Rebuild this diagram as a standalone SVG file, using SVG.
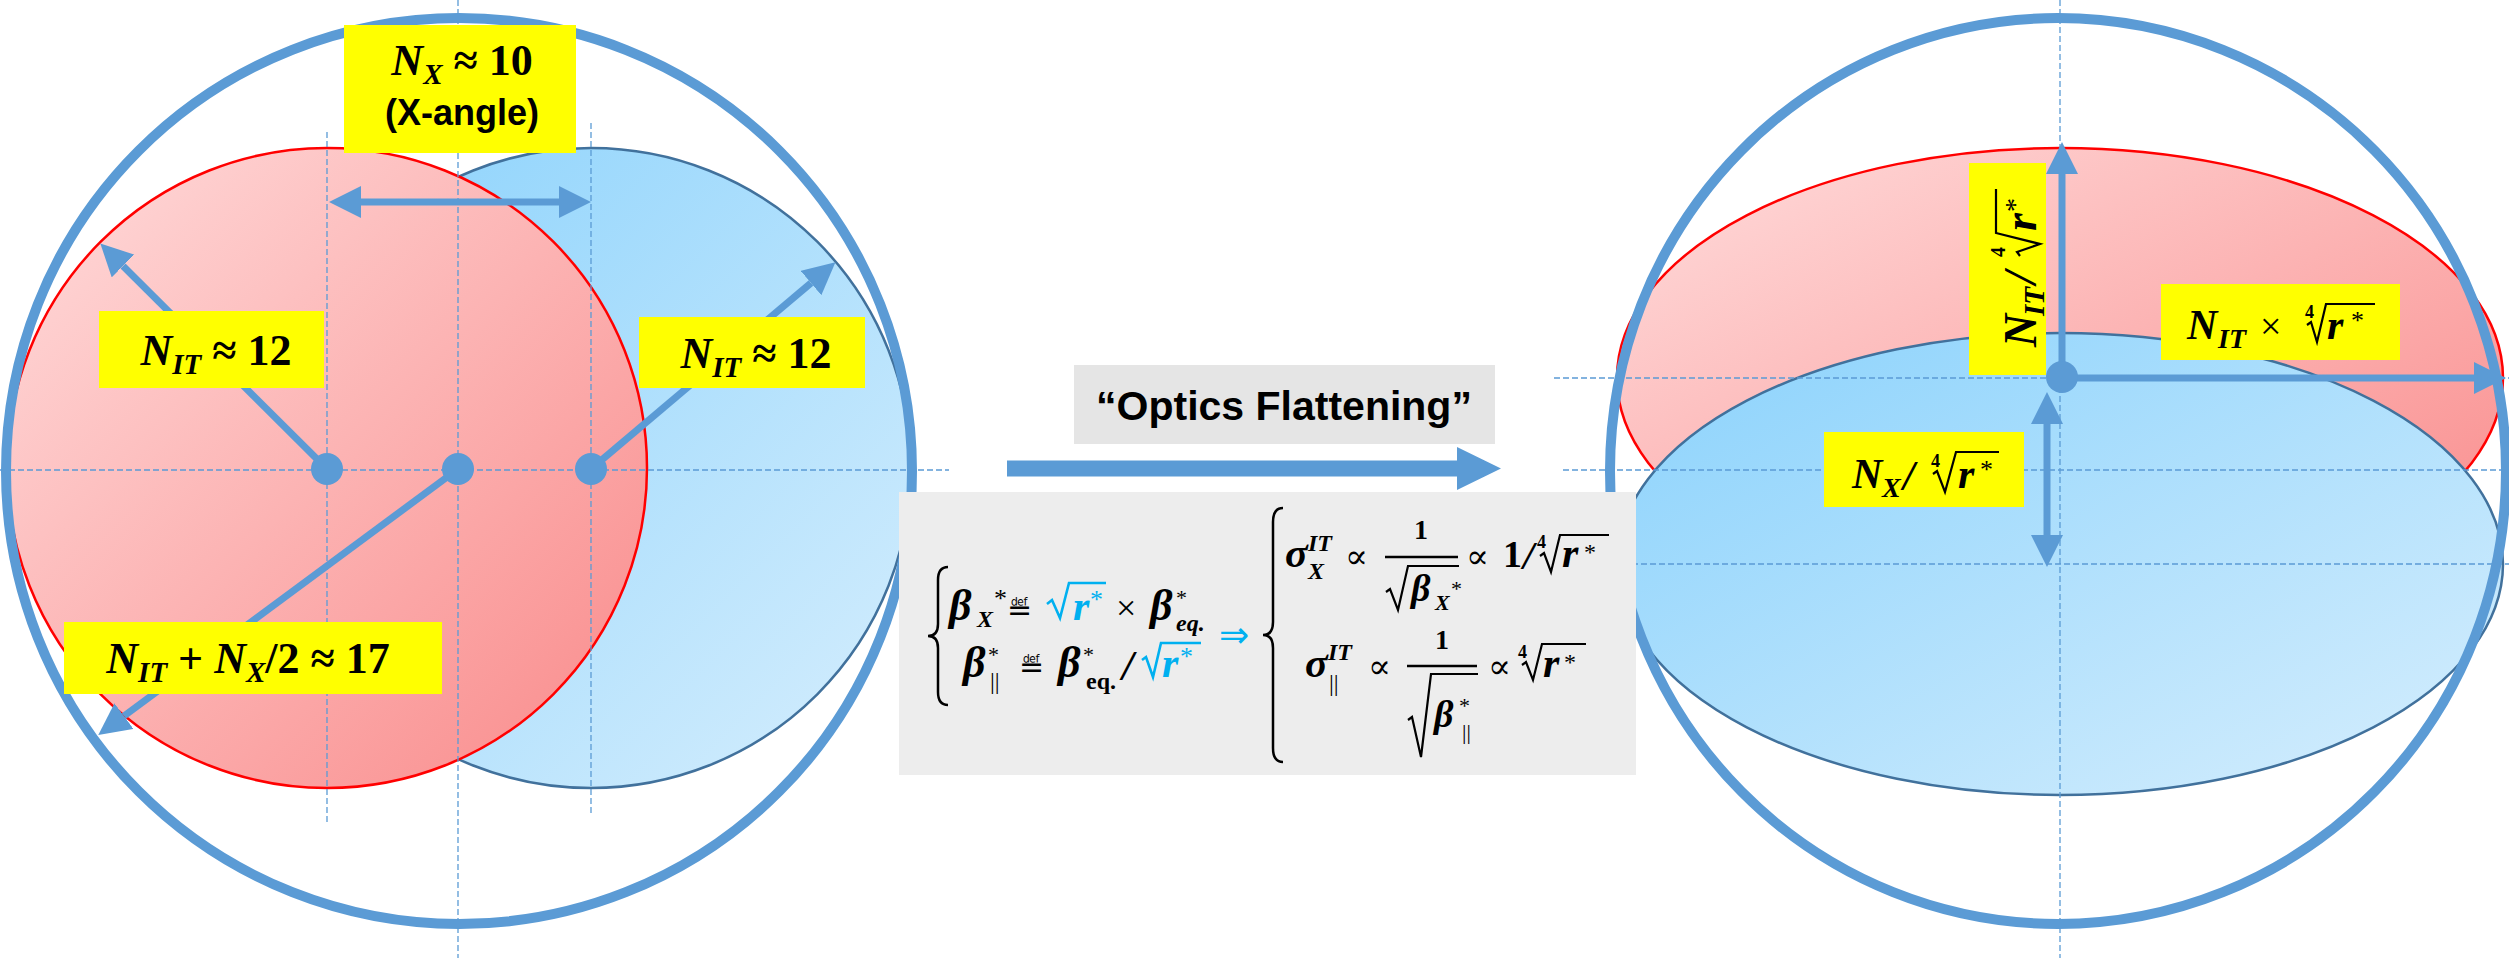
<svg xmlns="http://www.w3.org/2000/svg" width="2509" height="958" viewBox="0 0 2509 958">
<defs>
<linearGradient id="gRed" x1="0" y1="0" x2="1" y2="1">
<stop offset="0" stop-color="#ffdcdc"/>
<stop offset="1" stop-color="#f98a8a"/>
</linearGradient>
<linearGradient id="gBlue" x1="0" y1="0" x2="1" y2="1">
<stop offset="0" stop-color="#8ad2fc"/>
<stop offset="1" stop-color="#d6eefd"/>
</linearGradient>
<marker id="ah" viewBox="0 0 32 32" refX="0" refY="16" markerWidth="32" markerHeight="32" markerUnits="userSpaceOnUse" orient="auto-start-reverse">
<path d="M0,0 L32,16 L0,32 z" fill="#5b9bd5"/>
</marker>
<style>
.outer{fill:none;stroke:#5b9bd5;stroke-width:10}
.red{fill:url(#gRed);stroke:#ff0000;stroke-width:2.5}
.blue{fill:url(#gBlue);stroke:#41719c;stroke-width:2.5}
.dash{stroke:#5b9bd5;stroke-width:1.3;stroke-dasharray:6 3;fill:none}
.arr{stroke:#5b9bd5;stroke-width:7;fill:none}
.dot{fill:#5b9bd5}
.yel{fill:#ffff00}
.mi{font-family:"Liberation Serif","DejaVu Serif",serif;font-weight:bold;font-style:italic;fill:#000}
.mb{font-family:"Liberation Serif","DejaVu Serif",serif;font-weight:bold;font-style:normal;fill:#000}
.mr{font-family:"Liberation Serif","DejaVu Serif",serif;font-weight:normal;font-style:normal;fill:#000}
.up{font-style:normal}
.n{font-style:normal;font-weight:normal}
.b{font-style:normal;font-weight:bold}
.sans{font-family:"Liberation Sans",Arial,sans-serif;font-weight:bold;fill:#000}
.def{font-family:"DejaVu Sans",sans-serif;font-weight:normal;fill:#000}
.cy{fill:#00b0f0}
.rad{fill:none;stroke:#000;stroke-width:2.2;stroke-linejoin:miter}
.radc{fill:none;stroke:#00b0f0;stroke-width:2.6;stroke-linejoin:miter}
.brace{fill:none;stroke:#000;stroke-width:2.5}
</style>
</defs>

<!-- LEFT: fills -->
<g id="left-blue-circle"><circle class="blue" cx="591" cy="468" r="320"/></g>
<g id="left-red-circle"><circle class="red" cx="327" cy="468" r="320"/></g>

<!-- RIGHT: fills -->
<g id="right-red-ellipse"><ellipse class="red" cx="2060" cy="378" rx="443" ry="230"/></g>
<g id="right-blue-ellipse"><ellipse class="blue" cx="2060" cy="564" rx="443" ry="231"/></g>

<!-- guide lines -->
<g id="guides">
<line class="dash" x1="0" y1="470" x2="949" y2="470"/>
<line class="dash" x1="327" y1="132" x2="327" y2="825"/>
<line class="dash" x1="458" y1="0" x2="458" y2="958"/>
<line class="dash" x1="591" y1="123" x2="591" y2="816"/>
<line class="dash" x1="2060" y1="0" x2="2060" y2="958"/>
<line class="dash" x1="1554" y1="378" x2="2509" y2="378"/>
<line class="dash" x1="1563" y1="470" x2="2509" y2="470"/>
<line class="dash" x1="1560" y1="564" x2="2509" y2="564"/>
</g>

<!-- outer circles -->
<g id="left-outer"><circle class="outer" cx="459" cy="471" r="453"/></g>
<g id="right-outer"><ellipse class="outer" cx="2058" cy="471" rx="448" ry="453"/></g>

<!-- connectors -->
<g id="connectors">
<line class="arr" x1="327" y1="469" x2="123" y2="266" marker-end="url(#ah)"/>
<line class="arr" x1="591" y1="469" x2="811" y2="283" marker-end="url(#ah)"/>
<line class="arr" x1="458" y1="469" x2="124" y2="716" marker-end="url(#ah)"/>
<line class="arr" x1="361" y1="202" x2="559" y2="202" marker-start="url(#ah)" marker-end="url(#ah)"/>
<line class="arr" x1="2062" y1="378" x2="2062" y2="174" marker-end="url(#ah)"/>
<line class="arr" x1="2062" y1="378" x2="2474" y2="378" marker-end="url(#ah)"/>
<line class="arr" x1="2047" y1="424" x2="2047" y2="535" marker-start="url(#ah)" marker-end="url(#ah)"/>
<polygon id="flatten-arrow" fill="#5b9bd5" points="1007,460.5 1457,460.5 1457,447 1501,468.5 1457,490 1457,476.5 1007,476.5"/>
</g>

<!-- dots -->
<g id="dots">
<circle class="dot" cx="327" cy="469" r="16"/>
<circle class="dot" cx="458" cy="469" r="16"/>
<circle class="dot" cx="591" cy="469" r="16"/>
<circle class="dot" cx="2062" cy="377" r="16"/>
</g>

<!-- labels left -->
<g id="label-nx">
<rect class="yel" x="344" y="25" width="232" height="128"/>
<text class="mi" x="462" y="75" font-size="44" text-anchor="middle">N<tspan font-size="29" dy="9">X</tspan><tspan class="up" dy="-9"> ≈ 10</tspan></text>
<text class="sans" x="462" y="125" font-size="36" text-anchor="middle">(X-angle)</text>
</g>
<g id="label-nit-left">
<rect class="yel" x="99" y="311" width="225" height="77"/>
<text class="mi" x="216" y="365" font-size="44" text-anchor="middle">N<tspan font-size="29" dy="9">IT</tspan><tspan class="up" dy="-9"> ≈ 12</tspan></text>
</g>
<g id="label-nit-right">
<rect class="yel" x="639" y="317" width="226" height="71"/>
<text class="mi" x="756" y="368" font-size="44" text-anchor="middle">N<tspan font-size="29" dy="9">IT</tspan><tspan class="up" dy="-9"> ≈ 12</tspan></text>
</g>
<g id="label-sum">
<rect class="yel" x="64" y="622" width="378" height="72"/>
<text class="mi" x="248" y="673" font-size="44" text-anchor="middle">N<tspan font-size="29" dy="9">IT</tspan><tspan class="up" dy="-9"> + </tspan><tspan>N</tspan><tspan font-size="29" dy="9">X</tspan><tspan class="up" dy="-9">/2 ≈ 17</tspan></text>
</g>

<!-- labels right -->
<g id="label-nit-vertical">
<rect class="yel" x="1969" y="163" width="77" height="212"/>
<g transform="translate(2036,347) rotate(-90)">
<text class="mi" x="0" y="0" font-size="46">N<tspan x="31" y="8" font-size="29">IT</tspan><tspan x="63" y="0" font-size="46">/</tspan><tspan class="b" x="90" y="-31" font-size="20">4</tspan><tspan x="116" y="0" font-size="46">r</tspan><tspan class="n" x="135" y="-12" font-size="28">*</tspan></text>
<polyline class="rad" points="91,-16 95,-19 103,4 114,-40 158,-40"/>
</g>
</g>
<g id="label-nit-horizontal">
<rect class="yel" x="2161" y="284" width="239" height="76"/>
<text class="mi" x="2187" y="339" font-size="42">N<tspan x="2218" y="348" font-size="28">IT</tspan><tspan class="n" x="2260" y="339" font-size="38">×</tspan><tspan class="b" x="2305" y="318" font-size="18">4</tspan><tspan x="2327" y="339" font-size="42">r</tspan><tspan class="n" x="2351" y="329" font-size="26">*</tspan></text>
<polyline class="rad" points="2307,325 2311,322 2317,342 2326,304 2375,304"/>
</g>
<g id="label-nx-vertical">
<rect class="yel" x="1824" y="432" width="200" height="75"/>
<text class="mi" x="1852" y="488" font-size="42">N<tspan x="1882" y="497" font-size="28">X</tspan><tspan x="1903" y="490" font-size="42">/</tspan><tspan class="b" x="1931" y="467" font-size="18">4</tspan><tspan x="1958" y="488" font-size="42">r</tspan><tspan class="n" x="1980" y="478" font-size="26">*</tspan></text>
<polyline class="rad" points="1933,474 1937,471 1945,492 1956,452 1999,452"/>
</g>

<!-- Optics flattening title -->
<g id="optics-title">
<rect x="1074" y="365" width="421" height="79" fill="#e5e5e5"/>
<text class="sans" x="1284" y="420" font-size="41" text-anchor="middle">“Optics Flattening”</text>
</g>

<!-- formula box -->
<g id="formula">
<rect x="899" y="492" width="737" height="283" fill="#ededed"/>
<path class="brace" d="M948,567 Q938,567 938,580 L938,624 Q938,636 928,636 Q938,636 938,648 L938,692 Q938,705 948,705"/>
<!-- line 1 -->
<text class="mi" x="949" y="620" font-size="44">β<tspan x="977" y="627" font-size="24">X</tspan><tspan class="n" x="994" y="607" font-size="26">*</tspan></text>
<text class="def" x="1007" y="620" font-size="30">≝</text>
<polyline class="radc" points="1047,604 1052,600 1060,618 1069,583 1106,583"/>
<text class="mi cy" x="1073" y="620" font-size="42">r<tspan class="n" x="1090" y="608" font-size="26">*</tspan></text>
<text class="mr" x="1116" y="620" font-size="36">×</text>
<text class="mi" x="1150" y="620" font-size="44">β<tspan class="n" x="1176" y="605" font-size="22">*</tspan><tspan x="1176" y="631" font-size="24">eq.</tspan></text>
<!-- line 2 -->
<text class="mi" x="963" y="677" font-size="44">β<tspan class="n" x="988" y="662" font-size="22">*</tspan><tspan class="n" x="990" y="689" font-size="24">||</tspan></text>
<text class="def" x="1019" y="677" font-size="30">≝</text>
<text class="mi" x="1058" y="677" font-size="44">β<tspan class="n" x="1083" y="662" font-size="22">*</tspan><tspan class="b" x="1086" y="689" font-size="24">eq.</tspan><tspan x="1122" y="680" font-size="42">/</tspan></text>
<polyline class="radc" points="1142,660 1146,657 1153,677 1161,643 1201,643"/>
<text class="mi cy" x="1162" y="677" font-size="42">r<tspan class="n" x="1180" y="665" font-size="26">*</tspan></text>
<!-- implies -->
<text x="1219" y="647" font-size="36" font-family="DejaVu Sans, sans-serif" fill="#00b0f0">⇒</text>
<path class="brace" d="M1283,508 Q1273,508 1273,522 L1273,622 Q1273,635 1263,635 Q1273,635 1273,648 L1273,748 Q1273,762 1283,762"/>
<!-- line 3 -->
<text class="mi" x="1285" y="567" font-size="42">σ<tspan x="1308" y="551" font-size="24">IT</tspan><tspan x="1308" y="579" font-size="24">X</tspan></text>
<text class="mr" x="1345" y="568" font-size="34">∝</text>
<text class="mb" x="1421" y="539" font-size="28" text-anchor="middle">1</text>
<line x1="1385" y1="557" x2="1458" y2="557" stroke="#000" stroke-width="2.5"/>
<polyline class="rad" points="1386,592 1390,589 1398,610 1408,566 1459,566"/>
<text class="mi" x="1411" y="601" font-size="38">β<tspan x="1435" y="610" font-size="22">X</tspan><tspan class="n" x="1451" y="596" font-size="22">*</tspan></text>
<text class="mr" x="1466" y="568" font-size="34">∝</text>
<text class="mb" x="1503" y="567" font-size="38">1<tspan class="mi" x="1523" y="569" font-size="40">/</tspan><tspan x="1537" y="548" font-size="18">4</tspan><tspan class="mi" x="1562" y="567" font-size="42">r</tspan><tspan class="n" x="1584" y="560" font-size="24">*</tspan></text>
<polyline class="rad" points="1540,556 1544,553 1551,572 1560,535 1609,535"/>
<!-- line 4 -->
<text class="mi" x="1305" y="677" font-size="42">σ<tspan x="1328" y="660" font-size="24">IT</tspan><tspan class="n" x="1329" y="691" font-size="24">||</tspan></text>
<text class="mr" x="1368" y="678" font-size="34">∝</text>
<text class="mb" x="1442" y="649" font-size="28" text-anchor="middle">1</text>
<line x1="1407" y1="666" x2="1477" y2="666" stroke="#000" stroke-width="2.5"/>
<polyline class="rad" points="1408,720 1412,717 1421,757 1431,674 1478,674"/>
<text class="mi" x="1434" y="727" font-size="38">β<tspan class="n" x="1459" y="713" font-size="22">*</tspan><tspan class="n" x="1462" y="739" font-size="22">||</tspan></text>
<text class="mr" x="1488" y="678" font-size="34">∝</text>
<text class="mb" x="1518" y="658" font-size="18">4<tspan class="mi" x="1543" y="677" font-size="42">r</tspan><tspan class="n" x="1564" y="670" font-size="24">*</tspan></text>
<polyline class="rad" points="1522,665 1526,662 1533,680 1542,644 1586,644"/>
</g>
</svg>
